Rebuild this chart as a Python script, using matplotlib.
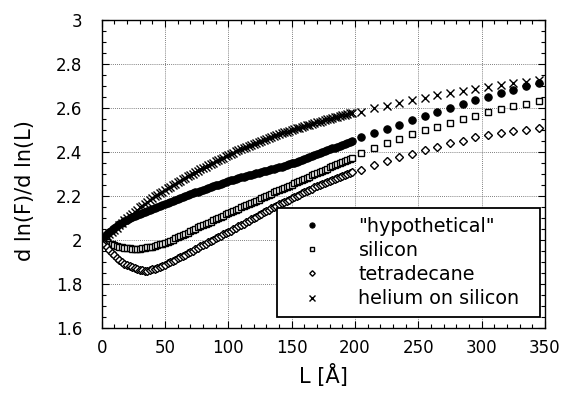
import numpy as np
import matplotlib
matplotlib.use("Agg")
import matplotlib.pyplot as plt
from matplotlib.ticker import MultipleLocator, FormatStrFormatter

plt.rcParams['font.family'] = ['DejaVu Sans']

# film thickness L [A]: dense part every 2 A, sparse part every 10 A
L_dense = np.arange(0, 200, 2)
L_sparse = np.arange(205, 350, 10)

hyp_dense = [
    2.000, 2.014, 2.026, 2.037, 2.046, 2.055, 2.063, 2.071, 2.078, 2.085,
    2.092, 2.098, 2.104, 2.109, 2.115, 2.120, 2.125, 2.129, 2.134, 2.138,
    2.143, 2.147, 2.152, 2.156, 2.161, 2.165, 2.169, 2.174, 2.178, 2.183,
    2.187, 2.191, 2.195, 2.200, 2.204, 2.208, 2.212, 2.216, 2.220, 2.224,
    2.228, 2.232, 2.236, 2.240, 2.244, 2.248, 2.252, 2.256, 2.260, 2.264,
    2.268, 2.271, 2.275, 2.278, 2.282, 2.285, 2.288, 2.291, 2.294, 2.297,
    2.300, 2.303, 2.306, 2.309, 2.312, 2.315, 2.318, 2.321, 2.324, 2.327,
    2.330, 2.334, 2.337, 2.341, 2.344, 2.348, 2.352, 2.356, 2.361, 2.365,
    2.369, 2.373, 2.377, 2.382, 2.386, 2.390, 2.394, 2.399, 2.403, 2.408,
    2.412, 2.416, 2.420, 2.425, 2.429, 2.433, 2.437, 2.442, 2.446, 2.451,
]
hyp_sparse = [2.467, 2.485, 2.505, 2.523, 2.544, 2.562, 2.582, 2.600,
              2.617, 2.635, 2.652, 2.667, 2.683, 2.698, 2.714]

sil_dense = [
    2.000, 1.994, 1.989, 1.984, 1.980, 1.976, 1.973, 1.970, 1.967, 1.965,
    1.963, 1.962, 1.961, 1.961, 1.961, 1.961, 1.962, 1.964, 1.966, 1.968,
    1.970, 1.973, 1.977, 1.980, 1.984, 1.988, 1.992, 1.997, 2.002, 2.007,
    2.012, 2.018, 2.023, 2.029, 2.034, 2.040, 2.046, 2.051, 2.057, 2.062,
    2.068, 2.073, 2.079, 2.084, 2.090, 2.095, 2.100, 2.106, 2.111, 2.117,
    2.122, 2.127, 2.132, 2.138, 2.143, 2.148, 2.153, 2.158, 2.164, 2.169,
    2.174, 2.179, 2.184, 2.190, 2.195, 2.200, 2.205, 2.210, 2.216, 2.221,
    2.226, 2.231, 2.236, 2.242, 2.247, 2.252, 2.257, 2.262, 2.268, 2.273,
    2.278, 2.283, 2.288, 2.294, 2.299, 2.304, 2.309, 2.314, 2.320, 2.325,
    2.330, 2.335, 2.340, 2.345, 2.350, 2.355, 2.360, 2.365, 2.370, 2.375,
]
sil_sparse = [2.394, 2.420, 2.440, 2.459, 2.480, 2.498, 2.515, 2.532,
              2.550, 2.565, 2.580, 2.594, 2.608, 2.620, 2.633]

tet_dense = [
    2.000, 1.983, 1.968, 1.954, 1.941, 1.930, 1.920, 1.910, 1.901, 1.893,
    1.886, 1.880, 1.875, 1.871, 1.867, 1.864, 1.862, 1.861, 1.861, 1.863,
    1.866, 1.870, 1.874, 1.879, 1.883, 1.888, 1.894, 1.899, 1.905, 1.910,
    1.916, 1.922, 1.928, 1.934, 1.940, 1.946, 1.952, 1.958, 1.965, 1.971,
    1.977, 1.983, 1.989, 1.995, 2.001, 2.007, 2.013, 2.019, 2.025, 2.031,
    2.037, 2.043, 2.049, 2.056, 2.062, 2.068, 2.074, 2.081, 2.087, 2.094,
    2.100, 2.106, 2.113, 2.119, 2.126, 2.132, 2.138, 2.144, 2.150, 2.156,
    2.162, 2.168, 2.173, 2.179, 2.184, 2.190, 2.195, 2.201, 2.206, 2.212,
    2.217, 2.222, 2.228, 2.233, 2.239, 2.244, 2.249, 2.254, 2.258, 2.263,
    2.268, 2.273, 2.277, 2.282, 2.286, 2.291, 2.296, 2.300, 2.305, 2.309,
]
tet_sparse = [2.320, 2.339, 2.359, 2.379, 2.392, 2.409, 2.424, 2.439,
              2.452, 2.467, 2.476, 2.485, 2.495, 2.502, 2.508]

hel_dense = [
    2.000, 2.009, 2.018, 2.027, 2.036, 2.045, 2.056, 2.067, 2.078, 2.089,
    2.100, 2.110, 2.119, 2.129, 2.138, 2.148, 2.156, 2.165, 2.173, 2.182,
    2.190, 2.198, 2.205, 2.213, 2.220, 2.228, 2.235, 2.242, 2.249, 2.256,
    2.263, 2.270, 2.276, 2.283, 2.289, 2.296, 2.302, 2.308, 2.315, 2.321,
    2.327, 2.333, 2.339, 2.345, 2.351, 2.357, 2.363, 2.369, 2.375, 2.381,
    2.387, 2.392, 2.397, 2.403, 2.408, 2.413, 2.418, 2.423, 2.428, 2.433,
    2.438, 2.442, 2.447, 2.451, 2.456, 2.460, 2.464, 2.468, 2.473, 2.477,
    2.481, 2.485, 2.489, 2.492, 2.496, 2.500, 2.504, 2.507, 2.511, 2.514,
    2.518, 2.521, 2.525, 2.528, 2.532, 2.535, 2.538, 2.541, 2.545, 2.548,
    2.551, 2.554, 2.557, 2.561, 2.564, 2.567, 2.570, 2.573, 2.576, 2.579,
]
hel_sparse = [2.583, 2.598, 2.611, 2.624, 2.636, 2.647, 2.658, 2.670,
              2.677, 2.686, 2.695, 2.703, 2.712, 2.718, 2.726]

labels = ['"hypothetical"', 'silicon', 'tetradecane', 'helium on silicon']

L_all = np.concatenate([L_dense, L_sparse])

fig = plt.figure(figsize=(5.65, 3.93), dpi=100)
ax = fig.add_axes([0.18, 0.1654, 0.7846, 0.7837])

ax.plot(L_all, hyp_dense + hyp_sparse, linestyle='none', marker='o',
        ms=5.3, mfc='black', mec='black', mew=0.8, label=labels[0])
ax.plot(L_all, sil_dense + sil_sparse, linestyle='none', marker='s',
        ms=4.9, mfc='white', mec='black', mew=1.0, label=labels[1])
ax.plot(L_all, tet_dense + tet_sparse, linestyle='none', marker='D',
        ms=4.0, mfc='white', mec='black', mew=1.0, label=labels[2])
ax.plot(L_all, hel_dense + hel_sparse, linestyle='none', marker='x',
        ms=5.3, mec='black', mew=1.0, label=labels[3])

ax.set_xlim(0, 350)
ax.set_ylim(1.6, 3.0)
ax.xaxis.set_major_locator(MultipleLocator(50))
ax.xaxis.set_minor_locator(MultipleLocator(10))
ax.yaxis.set_major_locator(MultipleLocator(0.2))
ax.yaxis.set_minor_locator(MultipleLocator(0.05))
ax.yaxis.set_major_formatter(FormatStrFormatter('%g'))

ax.tick_params(which='both', direction='in', top=True, right=True,
               colors='black', width=0.8)
ax.tick_params(which='major', length=5, labelsize=12)
ax.tick_params(axis='x', which='major', pad=8)
ax.tick_params(axis='y', which='major', pad=14)
ax.tick_params(which='minor', length=3)

ax.grid(True, which='major', linestyle=(0, (1, 1.5)), linewidth=0.6,
        color='#555555')
for s in ax.spines.values():
    s.set_linewidth(1.0)

ax.set_xlabel('L [Å]', fontsize=15, labelpad=5)
ax.set_ylabel('d ln(F)/d ln(L)', fontsize=15)
ax.yaxis.set_label_coords(-0.15, 0.445)

leg = ax.legend(loc='lower left', bbox_to_anchor=(0.3955, 0.0357, 0.5935, 0.35),
                mode='expand', fontsize=13.8, frameon=True, fancybox=False,
                edgecolor='black', framealpha=1, borderpad=0.45,
                handlelength=2.8, handletextpad=1.0, labelspacing=0.27,
                numpoints=1, markerscale=0.7, borderaxespad=0)
leg.get_frame().set_linewidth(1.3)

fig.savefig('out.png', dpi=100)
